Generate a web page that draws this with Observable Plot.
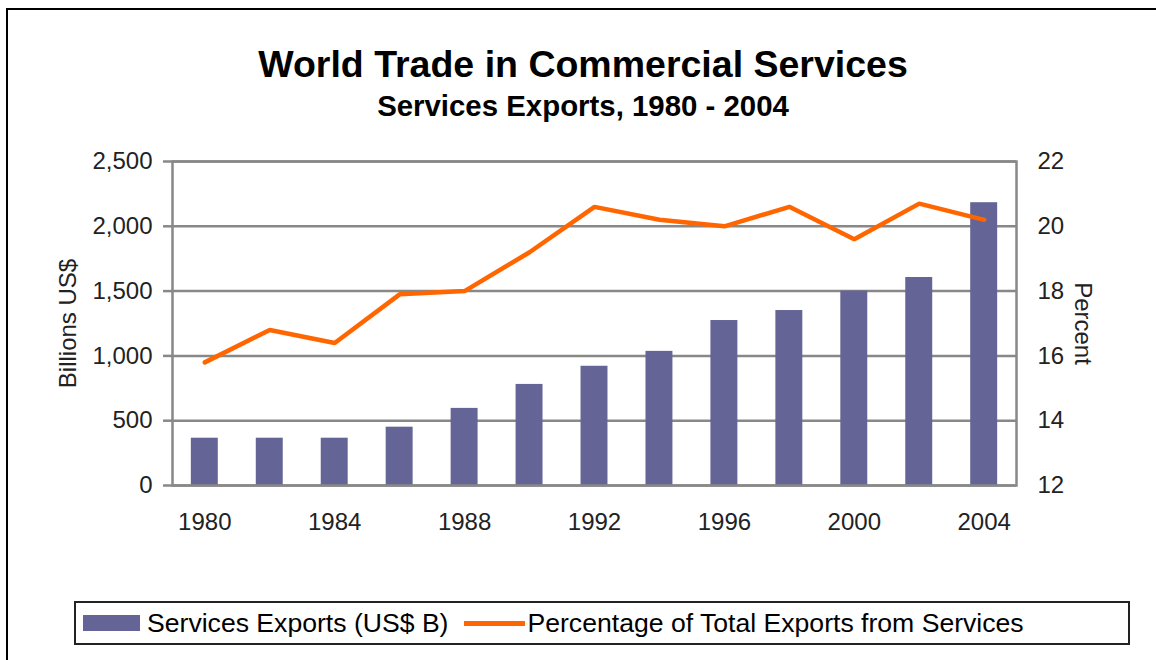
<!DOCTYPE html>
<html><head><meta charset="utf-8">
<script src="https://cdn.jsdelivr.net/npm/d3@7"></script>
<script src="https://cdn.jsdelivr.net/npm/@observablehq/plot@0.6"></script>
<style>
html,body{margin:0;padding:0;background:#fff;}
body{width:1156px;height:660px;overflow:hidden;position:relative;font-family:"Liberation Sans",Arial,sans-serif;color:#000;}
#frame{position:absolute;left:6px;top:8px;width:1200px;height:700px;border-left:2px solid #000;border-top:2px solid #000;pointer-events:none;}
#header{position:relative;height:130px;}
#title{position:absolute;left:10px;right:0;top:42px;text-align:center;font-weight:bold;font-size:37.5px;line-height:44px;}
#subtitle{position:absolute;left:10px;right:0;top:89px;text-align:center;font-weight:bold;font-size:29.4px;line-height:34px;}
#chart svg{display:block;}
#legend{margin-left:74px;margin-top:51px;width:1056px;height:44px;box-sizing:border-box;border:2px solid #222;display:flex;align-items:center;font-size:26.6px;color:#000;}
#legend .sw1{width:57px;height:16px;background:#646496;margin-left:7px;margin-right:7px;}
#legend .sw2{width:61px;height:5px;background:#ff6600;margin-left:16px;margin-right:2px;}
</style></head>
<body>
<div id="frame"></div>
<div id="header">
  <div id="title">World Trade in Commercial Services</div>
  <div id="subtitle">Services Exports, 1980 - 2004</div>
</div>
<div id="chart"></div>
<div id="legend">
  <div class="sw1"></div><span>Services Exports (US$ B)</span>
  <div class="sw2"></div><span>Percentage of Total Exports from Services</span>
</div>
<script>
const years = [1980,1982,1984,1986,1988,1990,1992,1994,1996,1998,2000,2002,2004];
const exportsB = [365,365,365,450,595,780,920,1035,1273,1350,1500,1605,2182];
const pctServices = [15.8,16.8,16.4,17.9,18.0,19.2,20.6,20.2,20.0,20.6,19.6,20.7,20.2];
const leftTicks = [0,500,1000,1500,2000,2500];
const rightTicks = [12,14,16,18,20,22];
const xTickYears = [1980,1984,1988,1992,1996,2000,2004];

const leftMax = 2500, rightMin = 12, rightMax = 22;
const pctToY = p => (p - rightMin) * leftMax / (rightMax - rightMin);
const yToPct = v => v * (rightMax - rightMin) / leftMax + rightMin;

const data = years.map((year, i) => ({year, exports: exportsB[i], pct: pctServices[i]}));

const chart = Plot.plot({
  width: 1156,
  height: 420,
  marginLeft: 172,
  marginRight: 140,
  marginTop: 31,
  marginBottom: 65,
  style: {fontFamily: "'Liberation Sans', Arial, sans-serif", fontSize: "24px", color: "#222", background: "#fff"},
  x: {type: "band", domain: years, paddingInner: 0.585, paddingOuter: 0.29, round: false},
  y: {domain: [0, leftMax]},
  marks: [
    Plot.gridY(leftTicks, {stroke: "#888", strokeWidth: 2.5, strokeOpacity: 1}),
    Plot.barY(data, {x: "year", y: "exports", fill: "#646496"}),
    Plot.frame({stroke: "#888", strokeWidth: 2.5}),
    Plot.line(data, {x: "year", y: d => pctToY(d.pct), stroke: "#ff6600", strokeWidth: 4.5, strokeLinejoin: "miter"}),
    Plot.axisY(leftTicks, {anchor: "left", tickSize: 9, tickPadding: 11, tickFormat: d3.format(","), stroke: "#888", strokeWidth: 2.5, fill: "#222", fontSize: 24, label: null}),
    Plot.axisY(rightTicks.map(pctToY), {anchor: "right", tickSize: 0, tickPadding: 21, tickFormat: v => String(Math.round(yToPct(v))), fill: "#222", fontSize: 24, label: null}),
    Plot.axisX(xTickYears, {anchor: "bottom", tickSize: 0, tickPadding: 27, tickFormat: d => String(d), fill: "#222", fontSize: 24, label: null}),
    Plot.text(["Billions US$"], {frameAnchor: "left", dx: -104, rotate: -90, textAnchor: "middle", fontSize: 24, fill: "#222"}),
    Plot.text(["Percent"], {frameAnchor: "right", dx: 66, rotate: 90, textAnchor: "middle", fontSize: 24, fill: "#222"})
  ]
});
document.getElementById("chart").appendChild(chart);
</script>
</body></html>
